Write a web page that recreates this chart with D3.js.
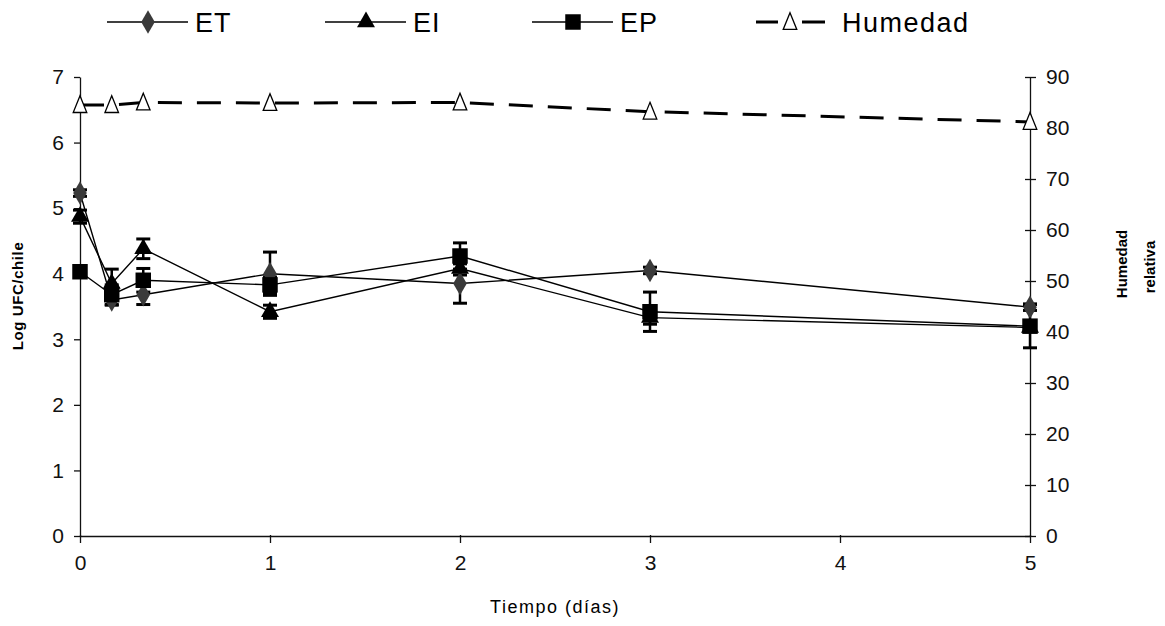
<!DOCTYPE html>
<html>
<head>
<meta charset="UTF-8">
<title>Log UFC/chile y Humedad</title>
<script src="https://cdn.jsdelivr.net/npm/d3@7"></script>
<style>
    body { margin: 0; background: #fff; }
    svg { display: block; font-family: "Liberation Sans", Arial, sans-serif; }
    .tick text { font-size: 21px; fill: #111; }
    .domain, .tick line { stroke: #111; stroke-width: 1.3; }
</style>
</head>
<body>
<svg id="chart" width="1165" height="626"></svg>
<script>
    // tiempo en dias (0, 4 h, 8 h, 1, 2, 3, 5)
    const dias = [0, 0.167, 0.333, 1, 2, 3, 5];

    const et = [5.23, 3.6, 3.68, 4.0, 3.85, 4.05, 3.49];
    const etErr = [0.05, 0.08, 0.15, 0.33, 0.3, 0.05, 0.05];

    const ei = [4.87, 3.85, 4.38, 3.42, 4.08, 3.33, 3.18];
    const eiErr = [0.1, 0.22, 0.15, 0.1, 0.1, 0.1, 0.05];

    const ep = [4.03, 3.68, 3.9, 3.83, 4.27, 3.42, 3.2];
    const epErr = [0.05, 0.15, 0.18, 0.12, 0.2, 0.3, 0.33];

    const humedad = [84.5, 84.5, 85, 84.9, 85, 83.2, 81.2];

    const xTicks = [0, 1, 2, 3, 4, 5];
    const yLeftTicks = [0, 1, 2, 3, 4, 5, 6, 7];
    const yRightTicks = [0, 10, 20, 30, 40, 50, 60, 70, 80, 90];

    const svg = d3.select("#chart");
    svg.append("rect").attr("width", 1165).attr("height", 626).attr("fill", "#fff");

    const x = d3.scaleLinear().domain([0, 5]).range([80, 1030]);
    const yL = d3.scaleLinear().domain([0, 7]).range([536, 77]);
    const yR = d3.scaleLinear().domain([0, 90]).range([536, 77]);
    const fmt = d3.format("d");

    // triangulo alto (marcador de Excel)
    const triAlto = {
        draw(ctx, size) {
            const w = Math.sqrt(size) * 0.62, h = Math.sqrt(size) * 0.85;
            ctx.moveTo(0, -h);
            ctx.lineTo(w, h * 0.8);
            ctx.lineTo(-w, h * 0.8);
            ctx.closePath();
        }
    };

    // ejes
    svg.append("g")
        .attr("transform", "translate(0,536)")
        .call(d3.axisBottom(x).tickValues(xTicks).tickFormat(fmt).tickSize(7).tickSizeOuter(0).tickPadding(12))
        .call(g => g.selectAll(".tick line").attr("y1", -1));

    svg.append("g")
        .attr("transform", "translate(80,0)")
        .call(d3.axisLeft(yL).tickValues(yLeftTicks).tickFormat(fmt).tickSize(6).tickSizeOuter(0).tickPadding(10));

    svg.append("g")
        .attr("transform", "translate(1030,0)")
        .call(d3.axisRight(yR).tickValues(yRightTicks).tickFormat(fmt).tickSize(6).tickSizeOuter(0).tickPadding(10))
        .call(g => g.selectAll(".tick line").attr("x1", -5));

    // titulos
    const bold = sel => sel.style("font-weight", "bold").style("font-size", "15px");
    svg.append("text")
        .attr("transform", "translate(23,296) rotate(-90)")
        .attr("text-anchor", "middle").style("letter-spacing", "0.6px")
        .call(bold).text("Log UFC/chile");
    svg.append("text")
        .attr("transform", "translate(1127,264) rotate(-90)")
        .attr("text-anchor", "middle").call(bold).text("Humedad");
    svg.append("text")
        .attr("transform", "translate(1155,267) rotate(-90)")
        .attr("text-anchor", "middle").call(bold).text("relativa");

    svg.append("text")
        .attr("x", 555).attr("y", 613)
        .attr("text-anchor", "middle")
        .style("font-size", "18px").style("letter-spacing", "1.5px")
        .text("Tiempo (días)");

    // series
    const series = [
        { name: "ET", vals: et, err: etErr, shape: d3.symbolDiamond, size: 160, fill: "#3a3a3a" },
        { name: "EI", vals: ei, err: eiErr, shape: d3.symbolTriangle, size: 140, fill: "#000" },
        { name: "EP", vals: ep, err: epErr, shape: d3.symbolSquare, size: 240, fill: "#000" }
    ];

    const lineL = d3.line().x(d => x(d[0])).y(d => yL(d[1]));

    series.forEach(s => {
        const pts = dias.map((d, i) => [d, s.vals[i], s.err[i]]);
        svg.append("path")
            .attr("d", lineL(pts))
            .attr("fill", "none").attr("stroke", "#000").attr("stroke-width", 1.4);

        const eb = svg.append("g").attr("stroke", "#000").attr("stroke-width", 2.5);
        pts.forEach(p => {
            eb.append("line")
                .attr("x1", x(p[0])).attr("x2", x(p[0]))
                .attr("y1", yL(p[1] - p[2])).attr("y2", yL(p[1] + p[2]));
            [p[1] - p[2], p[1] + p[2]].forEach(v => {
                eb.append("line")
                    .attr("x1", x(p[0]) - 7).attr("x2", x(p[0]) + 7)
                    .attr("y1", yL(v)).attr("y2", yL(v))
                    .attr("stroke-width", 3);
            });
        });
    });

    series.forEach(s => {
        svg.append("g").selectAll("path")
            .data(dias.map((d, i) => [d, s.vals[i]]))
            .join("path")
            .attr("transform", d => `translate(${x(d[0])},${yL(d[1])})`)
            .attr("d", d3.symbol(s.shape, s.size))
            .attr("fill", s.fill);
    });

    // humedad
    const hum = dias.map((d, i) => [d, humedad[i]]);
    svg.append("path")
        .attr("d", d3.line().x(d => x(d[0])).y(d => yR(d[1]))(hum))
        .attr("fill", "none").attr("stroke", "#000")
        .attr("stroke-width", 3).attr("stroke-dasharray", "24,15");
    svg.append("g").selectAll("path")
        .data(hum)
        .join("path")
        .attr("transform", d => `translate(${x(d[0])},${yR(d[1])})`)
        .attr("d", d3.symbol(triAlto, 120))
        .attr("fill", "#fff").attr("stroke", "#000").attr("stroke-width", 1.3);

    // leyenda
    const legX = [107, 325, 532, 756];
    const leg = svg.append("g");
    series.forEach((s, i) => {
        const g = leg.append("g").attr("transform", `translate(${legX[i]},22)`);
        g.append("line").attr("x1", 0).attr("x2", 81).attr("stroke", "#000").attr("stroke-width", 1.5);
        g.append("path").attr("transform", "translate(41,0)")
            .attr("d", d3.symbol(s.shape, s.size)).attr("fill", s.fill);
        g.append("text").attr("x", 88).attr("y", 10)
            .style("font-size", "27px").style("letter-spacing", "1px").text(s.name);
    });
    const gh = leg.append("g").attr("transform", `translate(${legX[3]},22)`);
    gh.append("line").attr("x1", 0).attr("x2", 22).attr("stroke", "#000").attr("stroke-width", 3);
    gh.append("line").attr("x1", 46).attr("x2", 69).attr("stroke", "#000").attr("stroke-width", 3);
    gh.append("path").attr("transform", "translate(34,0)")
        .attr("d", d3.symbol(triAlto, 120))
        .attr("fill", "#fff").attr("stroke", "#000").attr("stroke-width", 1.3);
    gh.append("text").attr("x", 86).attr("y", 10)
        .style("font-size", "27px").style("letter-spacing", "1.5px").text("Humedad");
</script>
</body>
</html>
